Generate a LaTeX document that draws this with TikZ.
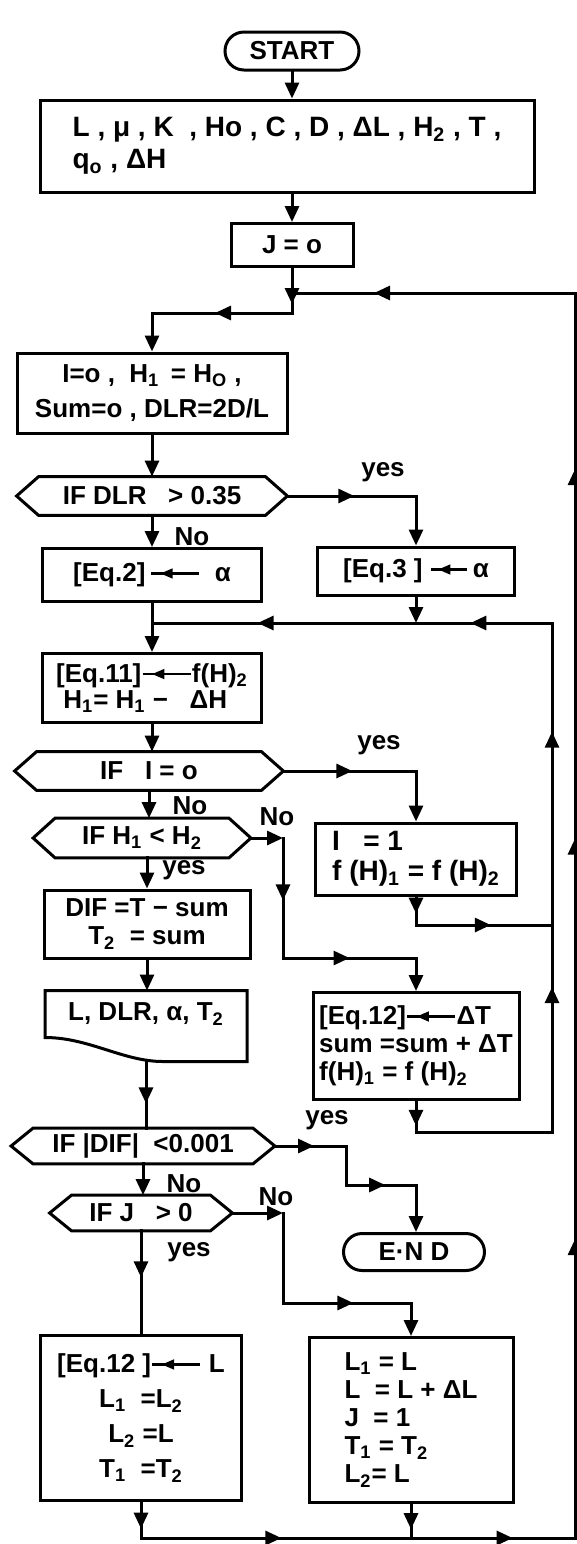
\documentclass[tikz,border=0pt]{standalone}
\usepackage{fontspec}
\setmainfont{Liberation Sans}
\usetikzlibrary{arrows.meta,decorations.markings}

\newcommand{\lo}[1]{\textsubscript{#1}}
\newcommand{\fs}[1]{\bfseries\fontsize{13}{#1}\selectfont}
% small arrow used inside the boxes
\newcommand{\from}[1][24pt]{\tikz[baseline=-0.6ex]{\draw[line width=1.3pt] (0,0) -- (#1,0);
  \fill (0.2*#1,0) -- (0.2*#1+6pt,2.6pt) -- (0.2*#1+6pt,-2.6pt) -- cycle;}}
% outline of a test box
\newcommand{\hexframe}[1]{\draw[flow] (#1.west) -- ([xshift=11pt]#1.north west)
  -- ([xshift=-11pt]#1.north east) -- (#1.east) -- ([xshift=-11pt]#1.south east)
  -- ([xshift=11pt]#1.south west) -- cycle;}

\begin{document}
\begin{tikzpicture}[x=0.5pt, y=-0.5pt, >={Triangle[length=8pt,width=7pt]},
    flow/.style={line width=1.5pt, line cap=rect},
    arr/.style={flow, ->},
    mt/.style={flow, postaction={decorate}, decoration={markings,
      mark=at position #1 with {\arrow{>}}}},
    box/.style 2 args={draw, line width=1.5pt, minimum width=#1*0.5pt,
      minimum height=#2*0.5pt, inner sep=1pt, align=center, font=\fs{15}},
    term/.style 2 args={box={#1}{#2}, rounded corners=#2*0.25pt},
    ifnode/.style 2 args={minimum width=#1*0.5pt, minimum height=#2*0.5pt,
      inner sep=0pt, font=\fs{15}},
    lbl/.style={font=\fs{15}}]
  \useasboundingbox (0,0) rectangle (577,1544);

  % boxes
  \node[term={134}{38}] (start) at (292,51) {START};
  \node[box={494}{92}, align=left, font=\bfseries\fontsize{14}{16}\selectfont] (inp) at (287,146)
    {L , μ , K \ , Ho , C , D , ΔL , H\lo{2} , T ,\\q\lo{o} , ΔH};
  \node[box={122}{43}] (jinit) at (292,245) {J = o};
  \node[box={270}{80}, font=\fs{17.5}] (init) at (152,393)
    {I=o , \ H\lo{1} \,= H\lo{O} ,\\Sum=o , DLR=2D/L};
  \node[ifnode={270}{38}] (dlr) at (152,496) {IF DLR \ \ > 0.35};
  \hexframe{dlr}
  \node[box={219}{53}] (eqtwo) at (152,575) {[Eq.2]\,\from\ \ α};
  \node[box={197}{48}] (eqthree) at (416,571) {[Eq.3 ] \from[18pt]\,α};
  \node[box={219}{69}, align=left, font=\fs{13}] (eqeleven) at (152,688)
    {[Eq.11]\from f(H)\lo{2}\\\ H\lo{1}= H\lo{1} − \ \ ΔH};
  \node[ifnode={268}{38}] (ifI) at (149,771) {IF \ \ I = o};
  \hexframe{ifI}
  \node[ifnode={217}{39}] (ifH) at (142,838) {IF H\lo{1} < H\lo{2}};
  \hexframe{ifH}
  \node[box={201}{72}, align=left, font=\bfseries\fontsize{14}{15}\selectfont]
    (setI) at (416,859) {I \ \ = 1\\f (H)\lo{1} = f (H)\lo{2}};
  \node[box={206}{68}, font=\fs{14}] (dif) at (147,924) {DIF =T − sum\\T\lo{2} \ = sum};
  \node[box={199}{44}, draw=none] (out) at (146,1014) {L, DLR, α, T\lo{2}};
  \draw[flow] (out.south west) -- (out.north west) -- (out.north east)
    -- ([yshift=-12pt]out.south east) -- ([xshift=-42pt,yshift=-12pt]out.south east)
    .. controls ([xshift=-62pt,yshift=-12pt]out.south east) and ([xshift=22pt]out.south west) .. cycle;
  \node[box={206}{107}, align=left, font=\fs{14}] (eqtwelve) at (416,1046)
    {[Eq.12]\from ΔT\\sum =sum + ΔT\\f(H)\lo{1} = f (H)\lo{2}};
  \node[ifnode={263}{35}] (difchk) at (143,1146) {IF |DIF| \ <0.001};
  \hexframe{difchk}
  \node[ifnode={182}{35}] (jchk) at (141,1213) {IF J \ \ > 0};
  \hexframe{jchk}
  \node[term={141}{37}] (stop) at (414,1252) {E·N D};
  \node[box={201}{165}, font=\fs{17.5}] (eqL) at (141,1418)
    {[Eq.12 ]\from\ L\\L\lo{1} \ =L\lo{2}\\L\lo{2} =L\\T\lo{1} \ =T\lo{2}};
  \node[box={204}{165}, align=left, font=\fs{14}] (setL) at (411,1420)
    {L\lo{1} = L\\L \ = L + ΔL\\J \ = 1\\T\lo{1} = T\lo{2}\\L\lo{2}= L};

  % yes / No
  \foreach \x/\y/\t [count=\i] in {383/472/yes, 192/537/No, 379/745/yes, 190/806/No,
      277/817/No, 184/870/yes, 327/1120/yes, 184/1184/No, 276/1197/No, 189/1252/yes}
    \node[lbl] (lab\i) at (\x,\y) {\t};

  % junctions
  \coordinate (ja) at (292,293);
  \coordinate (jb) at (292,313);
  \coordinate (jc) at (152,313);
  \coordinate (ya) at (416,496);
  \coordinate (jd) at (416,623);
  \coordinate (je) at (152,623);
  \coordinate (ie) at (552,623);
  \coordinate (yb) at (416,771);
  \coordinate (na) at (283,838);
  \coordinate (nb) at (283,958);
  \coordinate (nc) at (416,958);
  \coordinate (ka) at (416,925);
  \coordinate (kb) at (552,925);
  \coordinate (ob) at ([yshift=-12pt]out.south);
  \coordinate (ma) at (416,1132);
  \coordinate (mb) at (552,1132);
  \coordinate (pa) at (346,1146);
  \coordinate (pb) at (346,1185);
  \coordinate (pc) at (416,1185);
  \coordinate (qa) at (283,1213);
  \coordinate (qb) at (283,1303);
  \coordinate (qc) at (411,1303);
  \coordinate (ra) at (141,1538);
  \coordinate (rb) at (411,1538);
  \coordinate (rc) at (575,1538);
  \coordinate (rs) at (575,1040);
  \coordinate (rt) at (575,660);
  \coordinate (rd) at (575,293);

  % connectors
  \draw[arr] (start) -- (start |- inp.north);
  \draw[arr] (inp.south -| jinit) -- (jinit);
  \draw[mt=0.8] (jinit) -- (jb);
  \draw[mt=0.55] (jb) -- (jc);
  \draw[arr] (jc) -- (init);
  \draw[arr] (init) -- (dlr);
  \draw[mt=0.52] (dlr.east) -- (ya);
  \draw[arr] (ya) -- (eqthree);
  \draw[arr] (dlr) -- (eqtwo);
  \draw[arr] (eqthree) -- (jd);
  \draw[mt=0.6] (ie) -- (jd);
  \draw[mt=0.6] (jd) -- (je);
  \draw[arr] (eqtwo) -- (eqeleven);
  \draw[arr] (eqeleven) -- (eqeleven |- ifI.north);
  \draw[mt=0.52] (ifI.east) -- (yb);
  \draw[arr] (yb) -- (setI);
  \draw[arr] (ifI.south) -- (ifI.south |- ifH.north);
  \draw[arr] (ifH.east) -- (na);
  \draw[mt=0.52] (na) -- (nb);
  \draw[mt=0.5] (nb) -- (nc);
  \draw[arr] (nc) -- (eqtwelve);
  \draw[arr] (ifH.south -| dif) -- (dif);
  \draw[mt=0.6] (setI) -- (ka);
  \draw[mt=0.55] (ka) -- (kb);
  \draw[arr] (dif) -- (dif |- out.north);
  \draw[mt=0.63] (ob) -- (ob |- difchk.north);
  \draw[mt=0.8] (eqtwelve) -- (ma);
  \draw[flow] (ma) -- (mb);
  \draw[mt=0.7] (mb) -- (kb);
  \draw[mt=0.64] (kb) -- (ie);
  \draw[mt=0.55] (difchk.east) -- (pa);
  \draw[flow] (pa) -- (pb);
  \draw[mt=0.56] (pb) -- (pc);
  \draw[arr] (pc) -- (pc |- stop.north);
  \draw[arr] (difchk) -- (difchk |- jchk.north);
  \draw[arr] (jchk.east) -- (qa);
  \draw[flow] (qa) -- (qb);
  \draw[mt=0.55] (qb) -- (qc);
  \draw[arr] (qc) -- (qc |- setL.north);
  \draw[mt=0.45] (jchk) -- (jchk |- eqL.north);
  \draw[mt=0.74] (eqL) -- (ra);
  \draw[mt=0.74] (setL.south -| rb) -- (rb);
  \draw[mt=0.52] (ra) -- (rb);
  \draw[mt=0.62] (rb) -- (rc);
  \draw[mt=0.6] (rc) -- (rs);
  \draw[mt=0.53] (rs) -- (rt);
  \draw[mt=0.52] (rt) -- (rd);
  \draw[mt=0.71] (rd) -- (ja);
\end{tikzpicture}
\end{document}
